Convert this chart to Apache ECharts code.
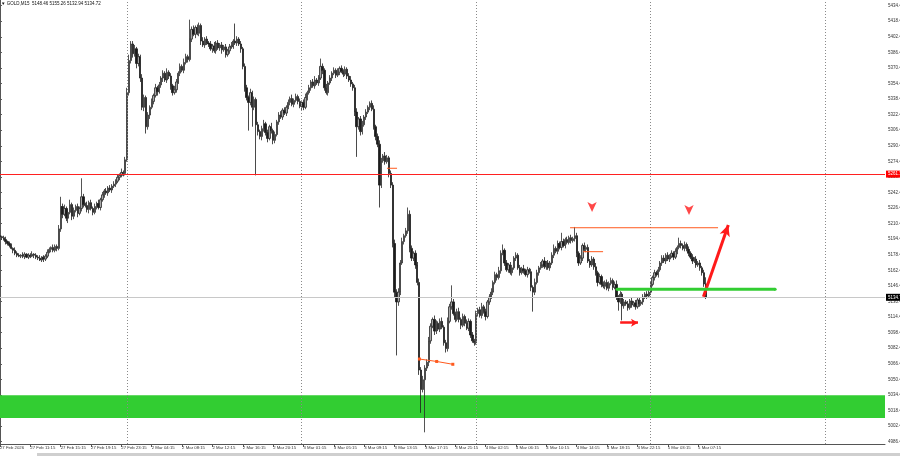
<!DOCTYPE html>
<html><head><meta charset="utf-8">
<script src="https://cdn.jsdelivr.net/npm/echarts@6/dist/echarts.min.js"></script>
<style>html,body{margin:0;padding:0;background:#fff}#c{width:900px;height:456px}</style>
</head><body><div id="c"></div>
<script>
// ---------- data ----------
const symbolTitle = 'GOLD,M15';
const lastOHLC = [5148.46, 5155.26, 5132.94, 5134.72];
const firstOpen = 5198;
const closes = [
5197,5196,5194,5192,5190,5188,5185,5183,5180,5178,
5177,5178,5177,5179,5176,5178,5177,5179,5178,5176,
5175,5173,5176,5174,5177,5181,5184,5186,5183,5187,
5185,5205,5228,5220,5226,5216,5222,5230,5218,5224,
5228,5221,5226,5238,5230,5229,5225,5232,5226,5222,
5228,5231,5227,5235,5240,5244,5242,5247,5245,5249,
5251,5254,5258,5260,5263,5262,5276,5345,5378,5395,
5385,5390,5375,5382,5360,5330,5340,5310,5322,5330,
5336,5342,5350,5346,5353,5360,5365,5358,5366,5362,
5352,5345,5348,5356,5365,5372,5368,5376,5382,5379,
5400,5410,5405,5412,5406,5414,5398,5394,5400,5396,
5395,5390,5393,5388,5396,5391,5394,5389,5392,5384,
5388,5392,5393,5398,5396,5400,5395,5390,5372,5350,
5340,5335,5345,5330,5338,5312,5305,5300,5308,5313,
5304,5298,5310,5306,5296,5302,5315,5322,5320,5327,
5324,5330,5335,5339,5333,5337,5341,5336,5331,5335,
5330,5340,5345,5350,5356,5352,5358,5355,5360,5372,
5368,5350,5345,5355,5360,5365,5368,5363,5366,5370,
5367,5364,5369,5362,5358,5354,5350,5325,5310,5318,
5305,5312,5320,5325,5330,5334,5328,5310,5300,5292,
5250,5275,5280,5274,5278,5262,5250,5190,5140,5130,
5140,5170,5192,5198,5203,5220,5185,5175,5180,5168,
5150,5060,5040,5050,5062,5068,5090,5105,5112,5100,
5108,5102,5110,5104,5088,5082,5110,5125,5130,5118,
5112,5120,5112,5106,5115,5108,5103,5110,5096,5090,
5088,5118,5122,5116,5125,5120,5115,5130,5135,5140,
5150,5158,5155,5162,5180,5183,5170,5163,5168,5160,
5165,5175,5178,5165,5160,5164,5162,5158,5163,5161,
5145,5140,5150,5160,5165,5168,5172,5166,5170,5165,
5170,5178,5185,5182,5190,5186,5192,5188,5194,5191,
5196,5193,5195,5198,5180,5170,5175,5188,5184,5186,
5172,5168,5174,5166,5160,5150,5156,5148,5146,5150,
5144,5149,5152,5145,5148,5135,5130,5138,5126,5130,
5128,5124,5131,5127,5129,5125,5132,5128,5130,5135,
5138,5136,5140,5148,5155,5160,5158,5163,5170,5175,
5172,5178,5174,5177,5180,5176,5182,5186,5190,5188,
5185,5189,5184,5180,5176,5172,5174,5168,5170,5165,
5160,5148.46,5134.72];
const upWick = [
2,1,2,3,1,2,2,1,3,2, 2,1,3,2,1,2,2,3,1,2, 2,3,1,2,2,3,2,1,3,2, 2,4,10,3,4,2,3,5,2,3,
2,3,2,19,3,2,4,2,3,2, 3,2,4,2,3,2,3,2,3,2, 3,2,3,2,4,2,3,5,6,3, 3,4,2,3,2,4,3,2,3,2,
3,2,4,2,3,2,3,2,4,2, 3,2,4,3,2,3,2,4,3,2, 20,3,4,2,3,3,2,4,2,3, 2,3,2,4,2,3,2,3,2,3,
2,3,4,2,18,3,2,3,2,3, 3,2,4,2,3,2,3,2,3,4, 2,3,2,4,2,3,2,3,4,2, 3,2,3,2,4,2,3,2,3,2,
3,4,2,3,2,3,4,2,3,8, 3,2,4,2,3,2,3,2,4,2, 3,2,3,2,3,4,2,3,4,2, 3,4,2,3,2,2,3,4,2,3,
4,3,2,4,3,2,3,3,4,3, 4,3,4,2,3,7,4,3,2,3, 3,4,3,4,3,3,4,3,2,4, 3,2,3,4,2,3,4,3,17,3,
2,3,4,2,3,2,4,3,2,3, 2,3,2,3,4,2,3,2,3,4, 2,3,2,4,3,6,2,3,2,3, 3,2,3,2,3,2,4,2,3,2,
3,2,4,3,2,3,2,4,2,3, 2,3,4,2,3,2,9,3,2,3, 2,3,2,9,3,2,3,2,3,2, 3,2,3,2,4,2,3,2,3,2,
3,2,3,2,3,4,2,3,2,3, 2,3,2,3,2,3,2,3,2,3, 2,3,2,3,2,3,2,3,2,3, 3,2,3,2,3,2,3,2,6,3,
2,3,2,3,2,3,2,3,2,3, 2,3,6.8];
const dnWick = [
2,2,1,3,2,2,1,3,2,2, 1,2,2,3,1,2,2,1,3,2, 2,1,2,3,2,2,1,3,2,2, 3,2,3,4,2,3,5,2,4,3,
2,4,2,3,3,2,3,4,2,3, 2,3,2,3,2,3,2,3,2,3, 2,3,2,3,2,3,2,2,3,3, 4,3,5,3,4,3,4,7,3,4,
2,3,2,4,2,3,4,2,3,3, 4,3,2,3,2,3,2,3,2,3, 2,3,2,4,2,3,4,2,3,2, 3,2,4,2,3,2,3,4,2,3,
2,3,2,3,2,3,2,4,3,4, 3,29,3,20,3,52,4,3,4,3, 3,4,2,3,4,3,2,3,2,3, 2,3,2,3,2,3,2,3,2,4,
3,2,3,2,3,2,3,2,3,2, 4,3,2,3,2,3,2,3,2,3, 2,3,2,3,2,3,3,4,31,3, 4,3,2,3,2,3,2,3,4,3,
23,3,2,3,2,4,3,4,5,55, 4,3,2,3,2,3,4,3,3,4, 3,5,24,3,54,3,4,3,2,4, 3,2,3,2,3,4,3,2,3,2,
3,2,3,4,2,3,2,3,3,2, 3,2,3,2,3,2,4,2,3,2, 3,2,3,2,3,2,3,2,3,2, 3,2,3,2,3,2,3,2,3,2,
4,20,3,2,3,2,3,2,3,2, 3,2,3,2,3,2,3,2,3,2, 2,3,2,3,4,3,2,3,2,3, 2,3,2,3,3,4,2,3,2,3,
2,3,2,3,2,3,9,2,15,3, 2,3,2,3,2,3,2,3,2,3, 2,3,2,3,2,3,2,3,2,3, 2,3,2,3,2,3,2,3,2,3,
2,3,2,3,2,3,2,3,2,3, 3,3,1.78];
const totalSlots = 467;               // bars incl. empty chart shift
const labelEvery = 16;                // one time label every 16 bars (4 h)
const timeLabels = ['27 Feb 2026','27 Feb 11:15','27 Feb 15:15','27 Feb 19:15','27 Feb 23:15',
 '2 Mar 04:15','2 Mar 08:15','2 Mar 12:15','2 Mar 16:15','2 Mar 20:15',
 '3 Mar 01:15','3 Mar 05:15','3 Mar 09:15','3 Mar 13:15','3 Mar 17:15','3 Mar 21:15',
 '4 Mar 02:15','4 Mar 06:15','4 Mar 10:15','4 Mar 14:15','4 Mar 18:15','4 Mar 22:15',
 '5 Mar 03:15','5 Mar 07:15'];
const daySeparators = [67, 159, 251, 343, 435];
const priceTicks = [4986.4,5002.4,5018.4,5034.4,5050.4,5066.4,5082.4,5098.4,5114.4,5130.4,
 5146.4,5162.4,5178.4,5194.4,5210.4,5226.4,5242.4,5258.4,5274.4,5290.4,5306.4,5322.4,
 5338.4,5354.4,5370.4,5386.4,5402.4,5418.4,5434.4];
const priceMin = 4984.0, priceMax = 5440.2;
const resistanceLevel = 5261.3;
const bidPrice = 5134.72;
const supportZone = [5034.2, 5010.8];
// drawn objects: [bar position, price]
const greenTrend = [[325.3, 5143.1], [408.6, 5143.1]];
const orangeTop = [[300.5, 5206.2], [378.5, 5206.2]];
const orangeMid = [[307.4, 5181.6], [317.9, 5181.6]];
const orangeHigh = [[204.0, 5267.3], [209.3, 5267.3]];
const orangeLow = [[221.1, 5071.3], [230.2, 5068.8], [238.7, 5065.9]];
const bigArrow = [[370.8, 5135.3], [383.9, 5209.0]];
const smallArrow = [[326.9, 5108.6], [336.3, 5108.6]];
const downMarks = [[312.1, 5222.4], [363.2, 5219.3]];

// ---------- build ----------
const cats = Array.from({length: totalSlots}, (_, i) => String(i));
const candles = closes.map((c, i) => {
  const o = i === 0 ? firstOpen : closes[i - 1];
  return [o, c, Math.min(o, c) - dnWick[i], Math.max(o, c) + upWick[i]];
});
const isLabelIdx = (i) => i % labelEvery === 0 && i / labelEvery < timeLabels.length;
const ORANGE = '#ff5a1e';
const FONT = 'Liberation Sans';
const seg = (pts, color, width, sym, size, z) => ({
  type: 'line', xAxisIndex: 1, yAxisIndex: 0, data: pts, silent: true,
  lineStyle: {color, width}, itemStyle: {color},
  symbol: sym || 'none', symbolSize: size || 0, showSymbol: !!sym, z: z || 5, animation: false
});

const chart = echarts.init(document.getElementById('c'), null, {renderer: 'canvas'});
chart.setOption({
  animation: false,
  backgroundColor: '#fff',
  grid: {left: -1, right: 15, top: 0, bottom: 12, containLabel: false, outerBoundsMode: 'none'},
  xAxis: [{
    type: 'category', data: cats, boundaryGap: true,
    axisLine: {show: true, lineStyle: {color: '#555', width: 1}},
    axisTick: {show: true, alignWithLabel: true, interval: isLabelIdx, length: 3, lineStyle: {color: '#555'}},
    axisLabel: {show: true, interval: isLabelIdx, formatter: (v, i) => timeLabels[i / labelEvery] || '',
      align: 'left', fontSize: 4.3, color: '#333', margin: 2, fontFamily: FONT, hideOverlap: false},
    splitLine: {show: false}
  }, {type: 'value', min: -0.5, max: totalSlots - 0.5, show: false}],
  yAxis: {
    type: 'value', position: 'right', min: priceMin, max: priceMax,
    axisLine: {show: true, lineStyle: {color: '#555', width: 1}},
    axisTick: {show: true, customValues: priceTicks, length: 2, lineStyle: {color: '#555'}},
    axisLabel: {show: true, customValues: priceTicks, formatter: (v) => v.toFixed(2),
      fontSize: 4.5, color: '#333', margin: 3, fontFamily: FONT},
    splitLine: {show: false}
  },
  graphic: [
    {type: 'text', left: 1, top: 1.5, style: {text: '▼ ' + symbolTitle + '  ' + lastOHLC.map(v => v.toFixed(2)).join(' '),
      fontSize: 4.5, fill: '#111', fontFamily: FONT}},
    {type: 'rect', shape: {x: 37, y: 453, width: 863, height: 3}, style: {fill: '#cfcfcf'}}
  ],
  series: [
    {type: 'line', data: [], z: 1, silent: true,
      markArea: {silent: true, itemStyle: {color: '#32cd32', opacity: 1},
        data: [[{yAxis: supportZone[0]}, {yAxis: supportZone[1]}]]}},
    {type: 'candlestick', data: candles, barWidth: 1.8, z: 3, silent: true,
      itemStyle: {color: '#a8a8a8', color0: '#1c1c1c', borderColor: '#2a2a2a', borderColor0: '#1c1c1c', borderWidth: 0.8},
      markLine: {silent: true, symbol: ['none', 'none'], animation: false, label: {show: false},
        data: [
          ...daySeparators.map(b => ({xAxis: b, lineStyle: {color: '#8a8a8a', width: 1, type: [1, 2]}, label: {show: false}})),
          {yAxis: resistanceLevel, lineStyle: {color: '#ff2020', width: 1, type: 'solid'},
            label: {show: true, position: 'end', distance: 1, formatter: resistanceLevel.toFixed(2), color: '#fff',
              backgroundColor: '#ff0000', fontSize: 4.5, padding: [1, 2], fontFamily: FONT}},
          {yAxis: bidPrice, lineStyle: {color: '#c8c8c8', width: 1, type: 'solid'},
            label: {show: true, position: 'end', distance: 1, formatter: bidPrice.toFixed(2), color: '#fff',
              backgroundColor: '#000', fontSize: 4.5, padding: [1, 2], fontFamily: FONT}}
        ]}},
    seg(greenTrend, '#32cd32', 3, 'circle', 3, 6),
    seg(orangeTop, ORANGE, 1, null, 0, 6),
    seg(orangeMid, ORANGE, 1, null, 0, 6),
    seg(orangeHigh, ORANGE, 1, null, 0, 6),
    seg(orangeLow, ORANGE, 1, 'rect', 3, 6),
    {type: 'line', xAxisIndex: 1, yAxisIndex: 0, data: [], z: 7, silent: true,
      markLine: {silent: true, animation: false, symbol: ['none', 'arrow'], label: {show: false},
        data: [
          [{coord: bigArrow[0], symbolSize: [8, 11], lineStyle: {color: '#ff1a1a', width: 3, type: 'solid'}}, {coord: bigArrow[1], symbolSize: [8, 11]}],
          [{coord: smallArrow[0], symbolSize: [6, 7], lineStyle: {color: '#ff1a1a', width: 2.5, type: 'solid'}}, {coord: smallArrow[1], symbolSize: [6, 7]}]
        ]}},
    {type: 'scatter', xAxisIndex: 1, yAxisIndex: 0, data: downMarks, symbol: 'arrow', symbolRotate: 180,
      symbolSize: [7, 10], itemStyle: {color: '#ff1a1a'}, z: 7, silent: true}
  ]
});
</script></body></html>
